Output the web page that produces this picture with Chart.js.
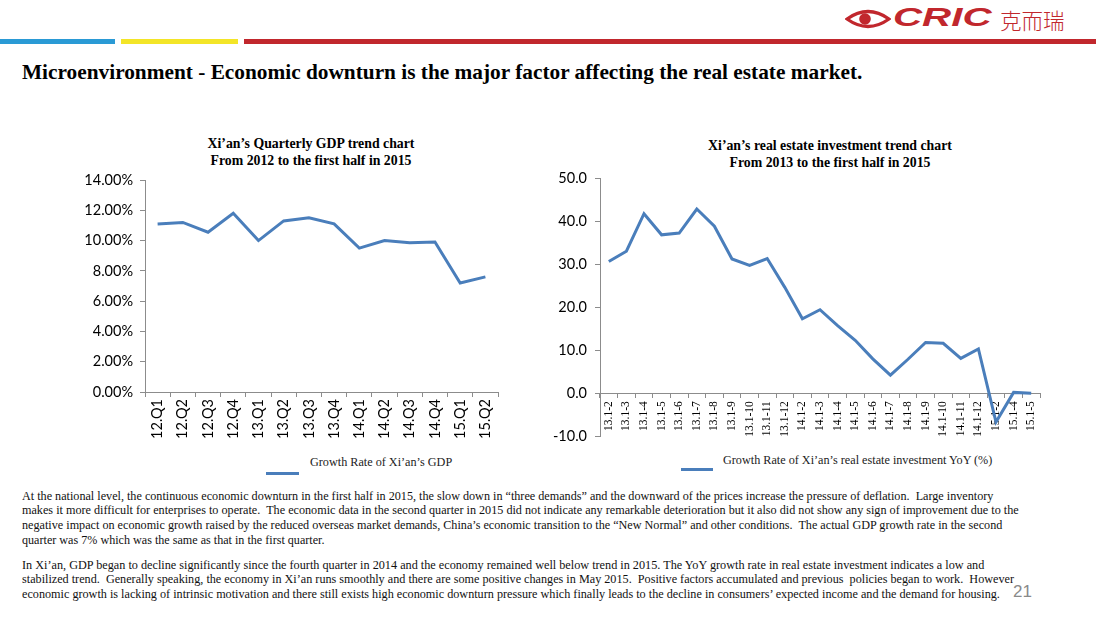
<!DOCTYPE html>
<html>
<head>
<meta charset="utf-8">
<script src="https://cdn.jsdelivr.net/npm/chart.js@4"></script>
<style>
html,body{margin:0;padding:0;width:1096px;height:617px;overflow:hidden;background:#fff;}
.abs{position:absolute;}
.bar{position:absolute;top:39px;height:5px;}
#title{left:22px;top:59px;font-family:"Liberation Serif",serif;font-weight:bold;font-size:22px;white-space:nowrap;transform-origin:0 0;color:#000;}
.para{position:absolute;left:22px;font-family:"Liberation Serif",serif;font-size:11.6px;white-space:nowrap;color:#111;transform-origin:0 0;}
.leg{position:absolute;font-family:"Liberation Serif",serif;font-size:12.2px;color:#222;white-space:nowrap;}
.legline{position:absolute;height:3px;background:#4a7ebb;}
.ctitle{position:absolute;width:400px;text-align:center;font-family:"Liberation Serif",serif;font-weight:bold;font-size:13.8px;line-height:16.5px;color:#000;}
#logo{left:845px;top:3px;height:28px;white-space:nowrap;}
</style>
</head>
<body>
<div class="bar" style="left:0;width:115px;background:#2a9ad5;"></div>
<div class="bar" style="left:121px;width:117px;background:#f3e528;"></div>
<div class="bar" style="left:244px;width:852px;background:#c1272d;"></div>

<div id="logo" class="abs">
  <svg width="46" height="22" viewBox="0 0 46 22" style="position:absolute;left:0;top:5px;">
    <path d="M2 11 Q23 -4 44 11 Q23 26 2 11 Z" fill="none" stroke="#c1272d" stroke-width="3.2"/>
    <circle cx="20" cy="11" r="5.8" fill="#c1272d"/>
  </svg>
  <span style="position:absolute;left:48px;top:-1px;font-family:'Liberation Sans',sans-serif;font-weight:bold;font-style:italic;font-size:26px;color:#c1272d;transform:scaleX(1.55);transform-origin:0 0;display:inline-block;">CRIC</span>
  <span style="position:absolute;left:155px;top:1px;font-family:'Noto Sans CJK SC',sans-serif;font-weight:300;font-size:21.5px;color:#c1272d;">克而瑞</span>
</div>

<div id="title" class="abs">Microenvironment - Economic downturn is the major factor affecting the real estate market.</div>

<div id="t1" class="ctitle" style="left:111px;top:136px;"></div>
<div id="t2" class="ctitle" style="left:630px;top:138px;"></div>

<div class="abs" style="left:78px;top:128px;width:430px;height:320px;"><canvas id="c1"></canvas></div>
<div class="abs" style="left:545px;top:128px;width:505px;height:325px;"><canvas id="c2"></canvas></div>

<div class="legline" style="left:266px;top:472px;width:33px;"></div>
<div id="l1" class="leg" style="left:310px;top:455px;"></div>
<div class="legline" style="left:681px;top:468px;width:32px;"></div>
<div id="l2" class="leg" style="left:723px;top:453px;"></div>

<div class="para" data-w="971" style="top:490px;">At the national level, the continuous economic downturn in the first half in 2015, the slow down in “three demands” and the downward of the prices increase the pressure of deflation.&nbsp; Large inventory</div>
<div class="para" data-w="997" style="top:504px;">makes it more difficult for enterprises to operate.&nbsp; The economic data in the second quarter in 2015 did not indicate any remarkable deterioration but it also did not show any sign of improvement due to the</div>
<div class="para" data-w="980" style="top:519px;">negative impact on economic growth raised by the reduced overseas market demands, China’s economic transition to the “New Normal” and other conditions.&nbsp; The actual GDP growth rate in the second</div>
<div class="para" data-w="302" style="top:534px;">quarter was 7% which was the same as that in the first quarter.</div>
<div class="para" data-w="962" style="top:559px;">In Xi’an, GDP began to decline significantly since the fourth quarter in 2014 and the economy remained well below trend in 2015. The YoY growth rate in real estate investment indicates a low and</div>
<div class="para" data-w="992" style="top:573px;">stabilized trend.&nbsp; Generally speaking, the economy in Xi’an runs smoothly and there are some positive changes in May 2015.&nbsp; Positive factors accumulated and previous&nbsp; policies began to work.&nbsp; However</div>
<div class="para" data-w="978" style="top:588px;">economic growth is lacking of intrinsic motivation and there still exists high economic downturn pressure which finally leads to the decline in consumers’ expected income and the demand for housing.</div>
<div class="abs" style="left:1013px;top:582px;font-family:'Liberation Sans',sans-serif;font-size:17px;color:#8a8a8a;">21</div>

<script>
// ---- Data ----
const gdpQuarters = ['12.Q1','12.Q2','12.Q3','12.Q4','13.Q1','13.Q2','13.Q3','13.Q4','14.Q1','14.Q2','14.Q3','14.Q4','15.Q1','15.Q2'];
const gdpGrowth = [11.1, 11.2, 10.55, 11.8, 10.0, 11.3, 11.5, 11.1, 9.5, 10.0, 9.85, 9.9, 7.2, 7.6];
const gdpTitle = ['Xi’an’s Quarterly GDP trend chart', 'From 2012 to the first half in 2015'];
const gdpSeriesName = 'Growth Rate of Xi’an’s GDP';

const invPeriods = ['13.1-2','13.1-3','13.1-4','13.1-5','13.1-6','13.1-7','13.1-8','13.1-9','13.1-10','13.1-11','13.1-12','14.1-2','14.1-3','14.1-4','14.1-5','14.1-6','14.1-7','14.1-8','14.1-9','14.1-10','14.1-11','14.1-12','15.1-2','15.1-4','15.1-5'];
const invGrowth = [30.6, 33.0, 41.7, 36.8, 37.2, 42.8, 38.8, 31.2, 29.7, 31.3, 24.6, 17.3, 19.4, 15.7, 12.3, 8.0, 4.2, 7.9, 11.8, 11.6, 8.1, 10.3, -6.7, 0.2, 0.0];
const invTitle = ['Xi’an’s real estate investment trend chart', 'From 2013 to the first half in 2015'];
const invSeriesName = 'Growth Rate of Xi’an’s real estate investment YoY (%)';

// titles & legends as text
document.getElementById('t1').innerHTML = gdpTitle.join('<br>');
document.getElementById('t2').innerHTML = invTitle.join('<br>');
document.getElementById('l1').textContent = gdpSeriesName;
document.getElementById('l2').textContent = invSeriesName;

// scale text blocks to reference widths
const t = document.getElementById('title');
t.style.transform = 'scaleX(' + (840 / t.scrollWidth) + ')';
document.querySelectorAll('.para').forEach(p => {
  const w = +p.dataset.w;
  p.style.transform = 'scaleX(' + (w / p.scrollWidth) + ')';
});

const LINE = '#4a7ebb';
const AXIS = '#8c8c8c';
const sansTick = {family: 'Lato, "Open Sans", sans-serif', size: 14.5};

new Chart(document.getElementById('c1'), {
  type: 'line',
  data: {labels: gdpQuarters, datasets: [{label: gdpSeriesName, data: gdpGrowth, borderColor: LINE, borderWidth: 3, pointRadius: 0, tension: 0, fill: false}]},
  options: {
    responsive: true, maintainAspectRatio: false, animation: false,
    layout: {padding: {left: 0, right: 10, top: 52, bottom: 0}},
    plugins: {legend: {display: false}, tooltip: {enabled: false}, title: {display: false}},
    scales: {
      x: {
        offset: true,
        grid: {offset: true, drawOnChartArea: false, drawTicks: true, tickLength: 5, color: AXIS},
        border: {color: AXIS, width: 1},
        ticks: {color: '#000', font: sansTick, maxRotation: 90, minRotation: 90, autoSkip: false, padding: 2},
        afterFit: s => { s.height = 56; }
      },
      y: {
        min: 0, max: 14,
        grid: {drawOnChartArea: false, drawTicks: true, tickLength: 5, color: AXIS},
        border: {color: AXIS, width: 1},
        ticks: {stepSize: 2, color: '#000', font: sansTick, padding: 7, callback: v => v.toFixed(2) + '%'},
        afterFit: s => { s.width = 67; }
      }
    }
  }
});

new Chart(document.getElementById('c2'), {
  type: 'line',
  data: {labels: invPeriods, datasets: [{label: invSeriesName, data: invGrowth, borderColor: LINE, borderWidth: 3, pointRadius: 0, tension: 0, fill: false}]},
  options: {
    responsive: true, maintainAspectRatio: false, animation: false,
    layout: {padding: {left: 0, right: 10, top: 50, bottom: 6}},
    plugins: {legend: {display: false}, tooltip: {enabled: false}, title: {display: false}},
    scales: {
      x: {
        position: {y: 0},
        offset: true,
        grid: {offset: true, drawOnChartArea: false, drawTicks: true, tickLength: 4, color: AXIS},
        border: {color: AXIS, width: 1},
        ticks: {color: '#000', font: {family: '"Liberation Serif", serif', size: 11.5}, maxRotation: 90, minRotation: 90, autoSkip: false, padding: 4}
      },
      y: {
        min: -10, max: 50,
        grid: {drawOnChartArea: false, drawTicks: true, tickLength: 5, color: AXIS},
        border: {color: AXIS, width: 1},
        ticks: {stepSize: 10, color: '#000', font: sansTick, padding: 8, callback: v => v.toFixed(1)},
        afterFit: s => { s.width = 55; }
      }
    }
  }
});
</script>
</body>
</html>
